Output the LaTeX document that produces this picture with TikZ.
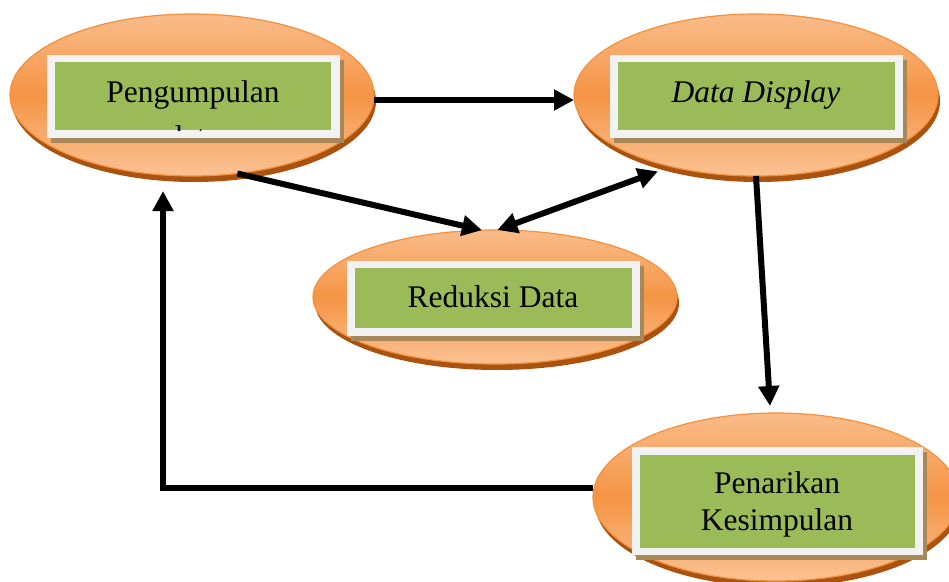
\documentclass[tikz,border=0pt]{standalone}
\usepackage{fontspec}
\setmainfont{Liberation Serif}
\usetikzlibrary{arrows.meta,shapes.geometric,calc}
\definecolor{ovaltop}{RGB}{249,188,138}
\definecolor{ovalmid}{RGB}{245,148,68}
\definecolor{ovalbot}{RGB}{250,194,148}
\definecolor{ovalline}{RGB}{243,145,60}
\definecolor{ovalshade}{RGB}{170,82,16}
\definecolor{framewhite}{RGB}{242,242,242}
\definecolor{frameshade}{RGB}{168,135,88}
\definecolor{boxgreen}{RGB}{155,187,89}
\begin{document}
\begin{tikzpicture}[x=1pt,y=-1pt,
  oval/.style={ellipse, inner sep=0pt, outer sep=0pt, draw=ovalline, line width=1.2pt,
    top color=ovaltop, bottom color=ovalbot, middle color=ovalmid},
  ovalshadow/.style={ellipse, inner sep=0pt, outer sep=0pt, fill=ovalshade},
  frame/.style={rectangle, inner sep=0pt, outer sep=0pt, fill=framewhite},
  frameshadow/.style={rectangle, inner sep=0pt, outer sep=0pt, fill=frameshade},
  greenbox/.style={rectangle, inner sep=0pt, outer sep=0pt, fill=boxgreen},
  label/.style={inner sep=0pt, outer sep=0pt, align=center,
    font=\fontsize{31.5}{37}\selectfont},
  flow/.style={line width=6pt, -{Triangle[length=20pt,width=20pt]}},
  flowboth/.style={line width=6pt, {Triangle[length=20pt,width=20pt]}-{Triangle[length=20pt,width=20pt]}}
]
\useasboundingbox (0,0) rectangle (949,581);
\clip (0,0) rectangle (949,581);

% --- Pengumpulan data
\node[ovalshadow, minimum width=364pt, minimum height=162pt] (s1) at (194,101) {};
\node[oval, minimum width=364pt, minimum height=162pt] (e1) at (192,95) {};
\node[frameshadow, minimum width=293pt, minimum height=83pt] (fs1) at (197.5,101.5) {};
\node[frame, minimum width=293pt, minimum height=83pt] (f1) at (193.5,96.5) {};
\node[greenbox, minimum width=276pt, minimum height=68pt] (g1) at (193,96) {};
\begin{scope}
  \clip (g1.north west) rectangle (g1.south east);
  \node[label, anchor=base] (t1) at (193,147.5) {Pengumpulan\\[8.5pt]data};
\end{scope}

% --- Data Display
\node[ovalshadow, minimum width=364pt, minimum height=162pt] (s2) at (758,101) {};
\node[oval, minimum width=364pt, minimum height=162pt] (e2) at (756,95) {};
\node[frameshadow, minimum width=293pt, minimum height=83pt] (fs2) at (760.5,101.5) {};
\node[frame, minimum width=293pt, minimum height=83pt] (f2) at (756.5,96.5) {};
\node[greenbox, minimum width=277pt, minimum height=68pt] (g2) at (756.5,96) {};
\node[label, anchor=base] (t2) at (756,102) {\itshape Data Display};

% --- Reduksi Data
\node[ovalshadow, minimum width=364pt, minimum height=134pt] (s3) at (497,303) {};
\node[oval, minimum width=364pt, minimum height=134pt] (e3) at (495,297) {};
\node[frameshadow, minimum width=293pt, minimum height=75pt] (fs3) at (497.5,303.5) {};
\node[frame, minimum width=293pt, minimum height=75pt] (f3) at (493.5,298.5) {};
\node[greenbox, minimum width=277pt, minimum height=60pt] (g3) at (493.5,298) {};
\node[label, anchor=base] (t3) at (493,307) {Reduksi Data};

% --- Penarikan Kesimpulan
\node[ovalshadow, minimum width=366pt, minimum height=168pt] (s4) at (778,503) {};
\node[oval, minimum width=366pt, minimum height=168pt] (e4) at (776,497) {};
\node[frameshadow, minimum width=291pt, minimum height=108pt] (fs4) at (781.5,506) {};
\node[frame, minimum width=291pt, minimum height=108pt] (f4) at (777.5,501) {};
\node[greenbox, minimum width=275pt, minimum height=93pt] (g4) at (777.5,501.5) {};
\node[label, anchor=base] (t4) at (777,530) {Penarikan\\Kesimpulan};

% --- connectors
\draw[flow] ([yshift=-5pt]e1.east) -- ([yshift=-5pt]e2.west);
\draw[flow] (e1.-60) -- (e3.101);
\draw[flowboth] (e3.88) -- ([xshift=-8pt,yshift=-6pt]e2.218);
\draw[flow] (e2.south) -- ([xshift=-6pt,yshift=7pt]e4.north);
\draw[flow] ([yshift=9pt]e4.west) -| ([xshift=-29pt,yshift=-15pt]e1.south);
\end{tikzpicture}
\end{document}
